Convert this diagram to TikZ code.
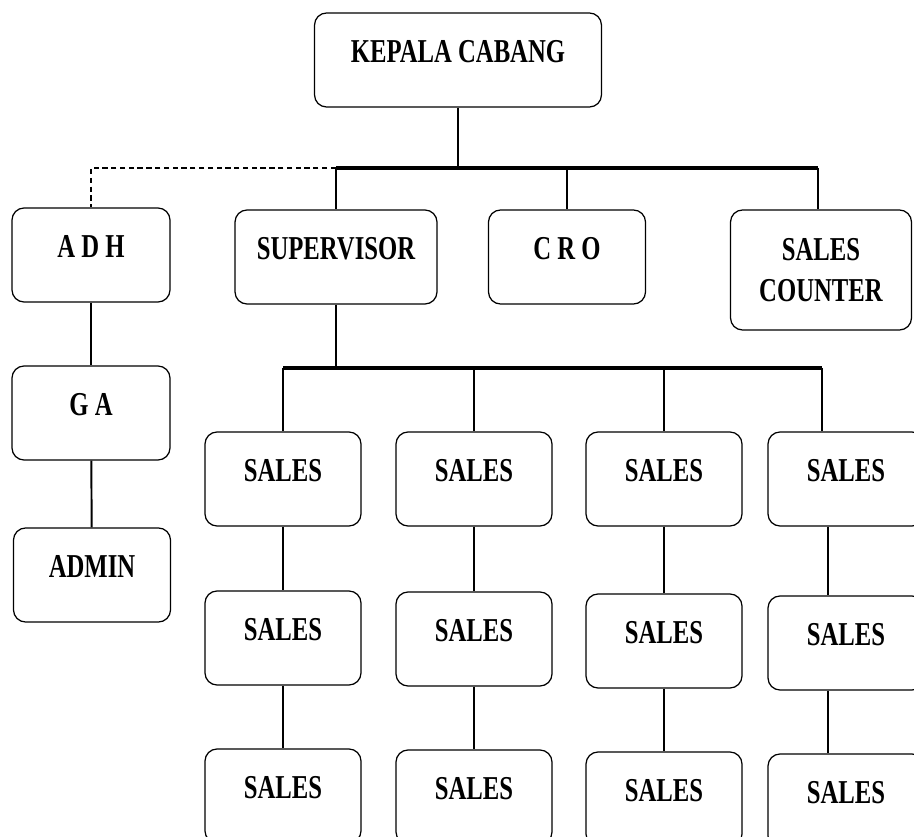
\documentclass[tikz,border=0pt]{standalone}
\usepackage{fontspec}
\newfontfamily\orgfont[FakeStretch=0.74]{Liberation Serif}
\newcommand\orgtext{\orgfont\bfseries\fontsize{19}{23}\selectfont}
\usetikzlibrary{calc}

\begin{document}
\begin{tikzpicture}[x=0.02cm,y=-0.02cm,
  orgbox/.style={draw,line width=0.7pt,rounded corners=0.24cm,font=\orgtext,align=center,inner sep=2pt},
  unit/.style={orgbox,text height=0.5cm,text depth=0.4cm},
  link/.style={line width=1.1pt},
  bus/.style={line width=2.4pt},
  staff/.style={line width=0.8pt,dash pattern=on 3pt off 2pt}]
  \useasboundingbox (0,0) rectangle (914,837);
  \clip (0,0) rectangle (914,837);
  % top level
  \node[unit,minimum width=5.74cm,minimum height=1.88cm] (kc) at (458,60) {KEPALA CABANG};
  \node[unit,minimum width=3.16cm,minimum height=1.88cm] (adh) at (91,255) {A D H};
  \node[unit,minimum width=4.04cm,minimum height=1.88cm] (sup) at (336,257) {SUPERVISOR};
  \node[unit,minimum width=3.14cm,minimum height=1.88cm] (cro) at (567,257) {C R O};
  \node[orgbox,minimum width=3.62cm,minimum height=2.4cm] (sc) at (821,270) {SALES\\COUNTER};
  \node[unit,minimum width=3.16cm,minimum height=1.88cm] (ga) at (91,413) {G A};
  \node[unit,minimum width=3.14cm,minimum height=1.88cm] (admin) at (92,575) {ADMIN};
  \coordinate (busL) at (336,168);
  \coordinate (busR) at (818,168);
  \coordinate (sbusL) at (283,368);
  \coordinate (sbusR) at (822,368);
  \draw[link] (kc.south) -- (kc.south |- busL);
  \draw[staff] (busL) -| (adh.north);
  \draw[bus] (busL) -- (busR);
  \draw[link] (busL) -- (sup.north);
  \draw[link] (cro.north |- busL) -- (cro.north);
  \draw[link] (busR) -- (busR |- sc.north);
  \draw[link] (adh) -- (ga);
  \draw[link] (ga) -- (admin);
  % sales team
  \draw[link] (sup.south) -- (sup.south |- sbusL);
  \draw[bus] (sbusL) -- (sbusR);
  \foreach \c/\x/\dy/\lx in {1/283/0/0cm,2/474/1/0cm,3/664/3/0cm,4/846/5/-0.36cm} {
    \node[unit,minimum width=3.12cm,minimum height=1.88cm] (s\c1) at (\x,479) {SALES};
    \node[unit,minimum width=3.12cm,minimum height=1.88cm] (s\c2) at (\x,638+\dy) {SALES};
    \node[unit,minimum width=3.12cm,minimum height=1.88cm] (s\c3) at (\x,796+\dy) {SALES};
    \draw[link] ([xshift=\lx]s\c1.south) -- ([xshift=\lx]s\c2.north);
    \draw[link] ([xshift=\lx]s\c2.south) -- ([xshift=\lx]s\c3.north);
  }
  \foreach \c in {1,2,3} \draw[link] (s\c1.north |- sbusL) -- (s\c1.north);
  \draw[link] (sbusR) -- (sbusR |- s41.north);
\end{tikzpicture}
\end{document}
